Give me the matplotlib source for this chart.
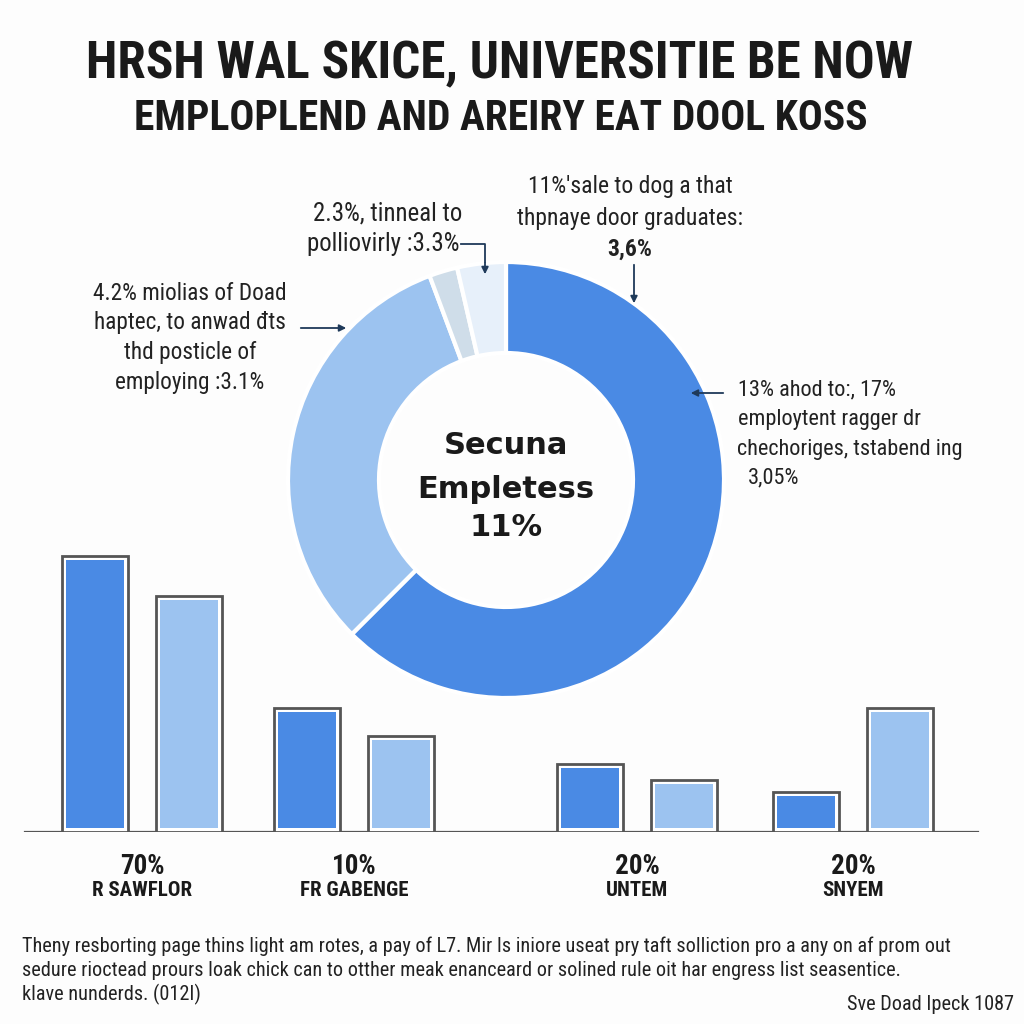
import matplotlib
matplotlib.use("Agg")
import matplotlib.pyplot as plt
from matplotlib import font_manager

# condensed font if there is one
names = {f.name for f in font_manager.fontManager.ttflist}
COND = next((n for n in ["Roboto Condensed", "Liberation Sans Narrow", "Liberation Sans"] if n in names), "DejaVu Sans")

# donut data
donut_vals = [62.5, 31.8, 2.1, 3.6]
donut_colors = ["#4a8ae4", "#9cc3f0", "#cfdde9", "#e7f0fa"]
center_lines = ["Secuna", "Empletess", "11%"]

# bar data
group_labels = ["R SAWFLOR", "FR GABENGE", "UNTEM", "SNYEM"]
group_pcts = ["70%", "10%", "20%", "20%"]
bar_dark = [69, 31, 17, 10]
bar_light = [59, 24, 13, 31]
bar_colors = ["#4a8ae4", "#9cc3f0"]

titles = ["HRSH WAL SKICE, UNIVERSITIE BE NOW", "EMPLOPLEND AND AREIRY EAT DOOL KOSS"]
note_top = ["11%'sale to dog a that", "thpnaye door graduates:", "3,6%"]
note_mid = ["2.3%, tinneal to", "polliovirly :3.3%"]
note_left = ["4.2% miolias of Doad", "haptec, to anwad \u0111ts", "thd posticle of", "employing :3.1%"]
note_right = ["13% ahod to:, 17%", "employtent ragger dr", "chechoriges, tstabend ing", "3,05%"]
footer = ["Theny resborting page thins light am rotes, a pay of L7. Mir Is iniore useat pry taft "
          "solliction pro a any on af prom out",
          "sedure rioctead prours loak chick can to otther meak enanceard or solined rule oit har "
          "engress list seasentice.",
          "klave nunderds. (012I)"]
source = "Sve Doad Ipeck 1087"

# layout (pixels)
W = 1024
group_x = [142, 354, 637, 853]
bar_off = [-47, 47]
bar_w = 66
INK = "#1a1a1a"
NAVY = "#1f3a5a"

fig = plt.figure(figsize=(10.24, 10.24), dpi=100)
fig.patch.set_facecolor("#fdfdfd")
renderer = fig.canvas.get_renderer()


def fit(t, width):
    # scale font so the text is about `width` pixels wide
    w = t.get_window_extent(renderer).width
    t.set_fontsize(t.get_fontsize() * width / w)
    return t.get_fontsize()


# ---- bars ----
axb = fig.add_axes([0, 192 / W, 1, 300 / W])
axb.set_xlim(0, W)
axb.set_ylim(0, 75)
axb.axis("off")
axb.axhline(0, xmin=25 / W, xmax=978 / W, color="#555555", lw=1.6, zorder=1)
for j, vals in enumerate([bar_dark, bar_light]):
    for i, v in enumerate(vals):
        x = group_x[i] + bar_off[j]
        axb.bar(x, v, width=bar_w, color="white", edgecolor="#555555", lw=2, zorder=2)
        axb.bar(x, v - 2, bottom=1, width=bar_w - 8, color=bar_colors[j], lw=0, zorder=3)

# ---- donut ----
R = 218
axp = fig.add_axes([(506 - R) / W, (1024 - 480 - R) / W, 2 * R / W, 2 * R / W])
axp.pie(donut_vals, colors=donut_colors, startangle=90, counterclock=False, radius=1,
        wedgeprops=dict(width=1 - 127 / R, edgecolor="white", linewidth=3))
axp.set_xlim(-1, 1)
axp.set_ylim(-1, 1)

# ---- overlay for text and arrows ----
ax = fig.add_axes([0, 0, 1, 1], facecolor="none")
ax.set_xlim(0, W)
ax.set_ylim(W, 0)
ax.axis("off")

t = ax.text(500, 64, titles[0], ha="center", va="center", fontsize=40, fontweight="bold", family=COND, color=INK)
fit(t, 825)
t = ax.text(501, 119, titles[1], ha="center", va="center", fontsize=34, fontweight="bold", family=COND, color=INK)
fit(t, 735)

for k, line in enumerate(center_lines):
    ax.text(506, [445, 490, 528][k], line, ha="center", va="center", fontsize=22,
            fontweight="bold", family="DejaVu Sans", color=INK)

ann = dict(family=COND, color="#222222", va="center")
arrow = dict(arrowstyle="-|>", color=NAVY, lw=1.3, mutation_scale=10)

# top right note
t = ax.text(630, 219, note_top[1], ha="center", fontsize=16, **ann)
fs = fit(t, 227)
ax.text(630, 187, note_top[0], ha="center", fontsize=fs, **ann)
ax.text(630, 249, note_top[2], ha="center", fontsize=fs, fontweight="bold",
        family=COND, color="#222222", va="center")
ax.annotate("", xy=(634, 306), xytext=(634, 262), arrowprops=arrow)

# top middle note
t = ax.text(383, 244, note_mid[1], ha="center", fontsize=16, **ann)
fs = fit(t, 153)
ax.text(388, 214, note_mid[0], ha="center", fontsize=fs, **ann)
ax.plot([461, 485, 485], [244, 244, 262], color=NAVY, lw=1.3)
ax.annotate("", xy=(485, 277), xytext=(485, 260), arrowprops=arrow)

# left note
t = ax.text(190, 293, note_left[0], ha="center", fontsize=16, **ann)
fs = fit(t, 194)
for k, line in enumerate(note_left[1:], start=1):
    ax.text(190, 293 + 29.7 * k, line, ha="center", fontsize=fs, **ann)
ax.annotate("", xy=(349, 328), xytext=(298, 328), arrowprops=arrow)

# right note
t = ax.text(737, 450, note_right[2], ha="left", fontsize=16, **ann)
fs = fit(t, 226)
ax.text(738, 390, note_right[0], ha="left", fontsize=fs, **ann)
ax.text(738, 420, note_right[1], ha="left", fontsize=fs, **ann)
ax.text(748, 478, note_right[3], ha="left", fontsize=fs, **ann)
ax.annotate("", xy=(688, 393), xytext=(726, 393), arrowprops=arrow)

# bar group labels
for i in range(len(group_labels)):
    ax.text(group_x[i], 867, group_pcts[i], ha="center", va="center", fontsize=19.5,
            fontweight="bold", family=COND, color=INK)
    ax.text(group_x[i], 891, group_labels[i], ha="center", va="center", fontsize=15,
            fontweight="bold", family=COND, color=INK)

# footer
t = ax.text(22, 946, footer[0], ha="left", fontsize=16, **ann)
fs = fit(t, 928)
ax.text(22, 970, footer[1], ha="left", fontsize=fs, **ann)
ax.text(22, 994, footer[2], ha="left", fontsize=fs, **ann)
ax.text(1014, 1004, source, ha="right", fontsize=fs, **ann)

fig.savefig("out.png", dpi=100, facecolor=fig.get_facecolor())
